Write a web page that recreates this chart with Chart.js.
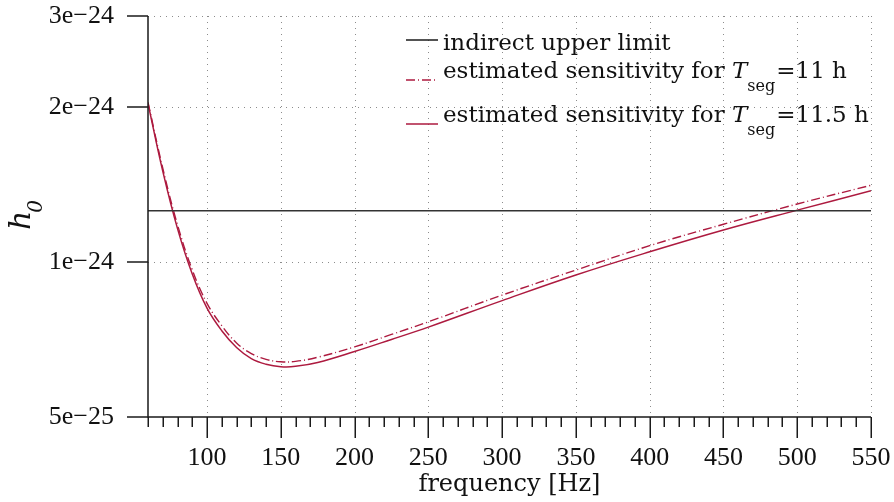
<!DOCTYPE html>
<html>
<head>
<meta charset="utf-8">
<script src="https://cdn.jsdelivr.net/npm/chart.js@4/dist/chart.umd.min.js"></script>
<style>
html,body{margin:0;padding:0;background:#fff;}
#c{display:block;}
</style>
</head>
<body>
<canvas id="c" width="894" height="502"></canvas>
<script>
// ---- data ----
const freq = [60,70,80,90,100,110,120,130,140,150,160,175,200,225,250,300,350,400,450,500,550];
const sens11 = [2.04e-24,1.52e-24,1.18e-24,9.65e-25,8.31e-25,7.52e-25,6.96e-25,6.64e-25,6.47e-25,6.40e-25,6.41e-25,6.53e-25,6.84e-25,7.23e-25,7.65e-25,8.62e-25,9.64e-25,1.075e-24,1.183e-24,1.295e-24,1.408e-24];
const sens115 = [2.03e-24,1.50e-24,1.16e-24,9.47e-25,8.13e-25,7.35e-25,6.82e-25,6.49e-25,6.33e-25,6.26e-25,6.27e-25,6.38e-25,6.70e-25,7.07e-25,7.47e-25,8.41e-25,9.43e-25,1.046e-24,1.153e-24,1.26e-24,1.374e-24];
const limitFreq = [60,550];
const limitValue = [1.257e-24,1.257e-24];
const xTicks = [100,150,200,250,300,350,400,450,500,550];
const yTicks = [5e-25,1e-24,2e-24,3e-24];
const yTickLabels = ['5e\u221225','1e\u221224','2e\u221224','3e\u221224'];
const legendLabels = ['indirect upper limit','estimated sensitivity for ','estimated sensitivity for '];
const legendSub = ['', '11 h', '11.5 h'];
const xTitle = 'frequency [Hz]';

const RED = '#ad1a3f';
const TICKFONT = '"Liberation Serif", serif';
const TEXTFONT = '"DejaVu Serif", serif';

function pts(xs, ys){ return xs.map((v,i)=>({x:v,y:ys[i]})); }
function zeroPad(s){ s.paddingLeft = 0; s.paddingRight = 0; s.paddingTop = 0; s.paddingBottom = 0; }

const deco = {
  id:'deco',
  beforeDatasetsDraw(chart){
    const {ctx, chartArea:a, scales:{x,y}} = chart;
    ctx.save();
    ctx.strokeStyle = '#8c8c8c'; ctx.lineWidth = 1; ctx.setLineDash([1,5]);
    xTicks.forEach(v=>{
      const px = Math.round(x.getPixelForValue(v))+0.5;
      ctx.beginPath(); ctx.moveTo(px,a.top); ctx.lineTo(px,a.bottom); ctx.stroke();
    });
    yTicks.forEach(v=>{
      if (v <= y.min) return;
      const py = Math.round(y.getPixelForValue(v))+0.5;
      ctx.beginPath(); ctx.moveTo(a.left,py); ctx.lineTo(a.right,py); ctx.stroke();
    });
    ctx.restore();
  },
  afterDraw(chart){
    const {ctx, chartArea:a, scales:{x,y}} = chart;
    ctx.save();
    ctx.strokeStyle = '#1a1a1a'; ctx.lineWidth = 1.5; ctx.setLineDash([]);
    // axis lines
    ctx.beginPath(); ctx.moveTo(a.left, a.top); ctx.lineTo(a.left, a.bottom); ctx.lineTo(a.right, a.bottom); ctx.stroke();
    // y ticks
    yTicks.forEach(v=>{
      const py = Math.round(y.getPixelForValue(v));
      ctx.beginPath(); ctx.moveTo(a.left-21, py); ctx.lineTo(a.left, py); ctx.stroke();
    });
    // x ticks (minor every 10, major at labels)
    for (let v = x.min; v <= x.max + 0.001; v += 10) {
      const px = Math.round(x.getPixelForValue(v))+0.25;
      const major = xTicks.includes(v);
      ctx.beginPath(); ctx.moveTo(px, a.bottom); ctx.lineTo(px, a.bottom + (major ? 21 : 10)); ctx.stroke();
    }
    // x title
    ctx.fillStyle = '#111';
    ctx.font = '24px ' + TEXTFONT;
    ctx.textAlign = 'center'; ctx.textBaseline = 'alphabetic';
    ctx.fillText(xTitle, (a.left + a.right)/2, 491);
    // y title h_0 (rotated)
    ctx.save();
    ctx.translate(30, 230);
    ctx.rotate(-Math.PI/2);
    ctx.textAlign = 'left';
    ctx.font = 'italic 30px ' + TEXTFONT;
    ctx.fillText('h', 0, 0);
    const hw = ctx.measureText('h').width;
    ctx.font = 'italic 20px ' + TEXTFONT;
    ctx.fillText('0', hw - 2, 12);
    ctx.restore();
    // legend
    ctx.textAlign = 'left';
    const lx0 = 406, lx1 = 438, tx = 443;
    const rows = [
      {ly:40, by:50, color:'#1a1a1a', dash:[]},
      {ly:80, by:78, color:RED, dash:[9,3,1,3]},
      {ly:124, by:122, color:RED, dash:[]}
    ];
    rows.forEach((r,i)=>{
      ctx.strokeStyle = r.color; ctx.lineWidth = 1.5; ctx.setLineDash(r.dash);
      ctx.beginPath(); ctx.moveTo(lx0, r.ly); ctx.lineTo(lx1, r.ly); ctx.stroke();
      ctx.setLineDash([]);
      ctx.font = '23px ' + TEXTFONT;
      ctx.fillText(legendLabels[i], tx, r.by);
      if (legendSub[i]) {
        let cx = tx + ctx.measureText(legendLabels[i]).width;
        ctx.font = 'italic 23px ' + TEXTFONT;
        ctx.fillText('T', cx, r.by);
        cx += ctx.measureText('T').width;
        ctx.font = '16px ' + TEXTFONT;
        ctx.fillText('seg', cx, r.by + 13);
        cx += ctx.measureText('seg').width + 1;
        ctx.font = '23px ' + TEXTFONT;
        ctx.fillText('=' + legendSub[i], cx, r.by);
      }
    });
    ctx.restore();
  }
};

new Chart(document.getElementById('c'), {
  type: 'line',
  data: {
    datasets: [
      {label:'indirect upper limit', data: pts(limitFreq, limitValue), borderColor:'#333', borderWidth:1.5, pointRadius:0, tension:0},
      {label:'estimated sensitivity for Tseg=11 h', data: pts(freq, sens11), borderColor:RED, borderWidth:1.4, borderDash:[9,3,1,3], pointRadius:0, tension:0.4},
      {label:'estimated sensitivity for Tseg=11.5 h', data: pts(freq, sens115), borderColor:RED, borderWidth:1.5, pointRadius:0, tension:0.4}
    ]
  },
  options: {
    responsive: false,
    animation: false,
    devicePixelRatio: 1,
    layout: {padding: {left: 0, top: 16, right: 23, bottom: 0}},
    plugins: {legend: {display:false}, tooltip: {enabled:false}},
    scales: {
      x: {
        type: 'linear', min: 60, max: 550,
        afterBuildTicks: s => { s.ticks = xTicks.map(v=>({value:v})); },
        afterFit: s => { s.height = 85; zeroPad(s); },
        grid: {display:false}, border: {display:false},
        ticks: {font:{family:TICKFONT, size:26}, color:'#111', padding:18, maxRotation:0, autoSkip:false}
      },
      y: {
        type: 'logarithmic', min: 5e-25, max: 3e-24,
        afterBuildTicks: s => { s.ticks = yTicks.map(v=>({value:v})); },
        afterFit: s => { s.width = 148; zeroPad(s); },
        grid: {display:false}, border: {display:false},
        ticks: {font:{family:TICKFONT, size:26}, color:'#111', padding:26, autoSkip:false,
                callback: (v, i) => yTickLabels[i]}
      }
    }
  },
  plugins: [deco]
});
</script>
</body>
</html>
